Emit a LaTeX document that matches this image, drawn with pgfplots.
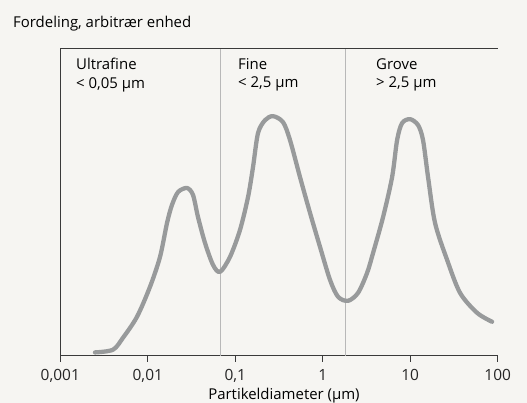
\documentclass[border=0pt]{standalone}
\usepackage{pgfplots}
\pgfplotsset{compat=1.18}
\usepackage{fontspec}
\setmainfont{Open Sans}
\definecolor{bg}{HTML}{F6F5F2}
\definecolor{curvec}{HTML}{989A9B}
\definecolor{axisc}{HTML}{3A3A3A}
\definecolor{divc}{HTML}{B8B8B8}
\begin{document}
\begin{tikzpicture}[font=\fontsize{15}{18.7}\selectfont]
\useasboundingbox[fill=bg] (-60.3bp,-47.3bp) rectangle (466.7bp,355.7bp);
\begin{axis}[
  scale only axis, width=437.4bp, height=307.4bp,
  xmode=log, xmin=0.001, xmax=100, ymin=0, ymax=308,
  enlargelimits=false,
  axis x line*=bottom, axis y line*=left,
  axis line style={axisc, line width=1.3pt, -},
  xtick={0.001,0.01,0.1,1,10,100},
  xticklabels={{0,001},{0,01},{0,1},1,10,100},
  xminorticks=false, ytick=\empty,
  tick align=outside, major tick length=6bp,
  tick style={axisc, line width=1.3pt},
  xticklabel style={font=\fontsize{15.5}{18}\selectfont, text=black!85, yshift=-4bp},
  clip=false,
]
\draw[divc, line width=0.9pt] (axis cs:0.067,0) -- (axis cs:0.067,308);
\draw[divc, line width=0.9pt] (axis cs:1.83,0) -- (axis cs:1.83,308);
\draw[axisc, line width=1.3pt] (rel axis cs:0,1) -- (rel axis cs:1,1);
\addplot[curvec, line width=4.3pt, smooth, line cap=round, line join=round] coordinates {
(0.00249,3.3) (0.00400,6) (0.00521,18) (0.00753,39) (0.0106,69) (0.0138,99)
(0.0166,133) (0.0189,151) (0.0222,164) (0.0281,168) (0.0329,161) (0.0375,139)
(0.0451,113) (0.0557,91) (0.0670,84) (0.0871,99) (0.1133,126) (0.140,159)
(0.1596,189) (0.182,223) (0.219,236) (0.2705,240) (0.3516,234) (0.4227,216)
(0.5495,179) (0.716,143) (0.931,109) (1.211,76) (1.498,59) (1.949,55)
(2.535,63) (3.215,83) (3.763,103) (4.897,139) (6.21,179) (7.08,216)
(8.065,233) (9.95,237) (12.30,231) (14.01,216) (15.99,179) (19.22,133)
(26.4,96) (37.1,63) (58.06,43) (86.2,34)
};
\end{axis}
\node[anchor=west, inner sep=0pt] at (-47.3bp,331.7bp) {Fordeling, arbitrær enhed};
\node[anchor=north west, inner sep=0pt, align=left] at (15.7bp,297.7bp) {Ultrafine\\< 0,05 µm};
\node[anchor=north west, inner sep=0pt, align=left] at (177.7bp,297.7bp) {Fine\\< 2,5 µm};
\node[anchor=north west, inner sep=0pt, align=left] at (315.7bp,297.7bp) {Grove\\> 2,5 µm};
\node[anchor=center, inner sep=0pt] at (223.7bp,-39.5bp) {Partikeldiameter (µm)};
\end{tikzpicture}
\end{document}
